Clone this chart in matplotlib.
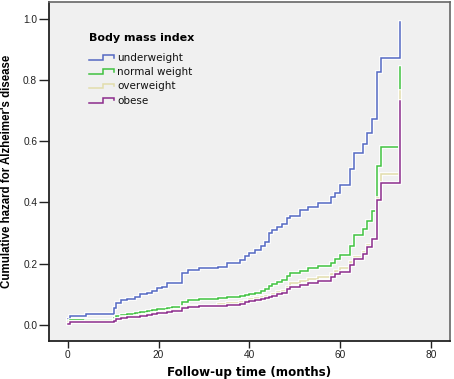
import matplotlib
matplotlib.use("Agg")
import matplotlib.pyplot as plt
from matplotlib.lines import Line2D
from matplotlib.legend_handler import HandlerBase
import matplotlib.patheffects as pe

# ---------------- data ----------------
times = [0, 0.5, 4, 10.2, 10.6, 11.7, 13, 14.8, 16, 17.4, 18.5, 19.6, 20.7, 21.8, 23,
         25.1, 26.4, 29, 33, 35, 38, 39, 40, 41.3, 42.5, 43.5, 44.3, 45, 46.2, 47.3,
         48.2, 49, 51.2, 53, 55.2, 58.1, 58.9, 60, 62.2, 63.1, 65, 66, 67, 68.1, 69, 73.1]

underweight = [0.02, 0.03, 0.035, 0.055, 0.07, 0.08, 0.085, 0.09, 0.10, 0.105, 0.112, 0.12,
               0.125, 0.135, 0.135, 0.168, 0.178, 0.185, 0.19, 0.203, 0.212, 0.225, 0.235,
               0.245, 0.258, 0.27, 0.30, 0.31, 0.32, 0.33, 0.348, 0.357, 0.375, 0.384, 0.399,
               0.417, 0.43, 0.458, 0.508, 0.56, 0.59, 0.628, 0.672, 0.827, 0.873, 0.989]

normal_weight = [0.012, 0.015, 0.016, 0.022, 0.028, 0.033, 0.035, 0.038, 0.041, 0.044, 0.047,
                 0.05, 0.052, 0.055, 0.058, 0.076, 0.081, 0.084, 0.087, 0.09, 0.093, 0.097,
                 0.1, 0.105, 0.111, 0.118, 0.127, 0.133, 0.14, 0.145, 0.159, 0.17, 0.177,
                 0.184, 0.192, 0.203, 0.216, 0.227, 0.257, 0.292, 0.314, 0.34, 0.373, 0.52,
                 0.582, 0.842]

overweight = [0.008, 0.01, 0.011, 0.015, 0.02, 0.024, 0.026, 0.029, 0.032, 0.035, 0.038, 0.04,
              0.042, 0.045, 0.047, 0.059, 0.06, 0.062, 0.067, 0.07, 0.074, 0.079, 0.083,
              0.088, 0.091, 0.093, 0.095, 0.1, 0.106, 0.11, 0.122, 0.135, 0.143, 0.15, 0.157,
              0.166, 0.177, 0.184, 0.206, 0.222, 0.238, 0.26, 0.282, 0.413, 0.494, 0.765]

obese = [0.004, 0.009, 0.01, 0.013, 0.018, 0.022, 0.024, 0.027, 0.03, 0.033, 0.036, 0.038,
         0.04, 0.042, 0.045, 0.055, 0.057, 0.06, 0.063, 0.066, 0.069, 0.074, 0.078, 0.082,
         0.085, 0.087, 0.09, 0.095, 0.1, 0.104, 0.117, 0.124, 0.13, 0.137, 0.143, 0.155,
         0.166, 0.173, 0.195, 0.216, 0.232, 0.254, 0.282, 0.408, 0.462, 0.733]

labels = ["underweight", "normal weight", "overweight", "obese"]
series = [underweight, normal_weight, overweight, obese]
colors = ["#5468c2", "#40c240", "#e2ddab", "#8c2c8c"]

xticks = [0, 20, 40, 60, 80]
yticks = [0.0, 0.2, 0.4, 0.6, 0.8, 1.0]

# ---------------- figure ----------------
W, H = 454, 379
fig = plt.figure(figsize=(W / 100, H / 100), dpi=100)
fig.patch.set_facecolor("white")
ax = fig.add_axes([49 / W, 1 - 341 / H, (450 - 49) / W, (341 - 2) / H])
ax.set_facecolor("#f0f0f0")

halo = [pe.Stroke(linewidth=2.6, foreground="white"), pe.Normal()]
for vals, col, lab in zip(series, colors, labels):
    ax.step(times, vals, where="post", color=col, lw=1.1, label=lab,
            path_effects=halo, solid_joinstyle="miter")

ax.set_xlim(-4.12, 84.2)
ax.set_ylim(-0.053, 1.055)
ax.set_xticks(xticks)
ax.set_xticklabels([str(v) for v in xticks])
ax.set_yticks(yticks)
ax.set_yticklabels([f"{v:.1f}" for v in yticks])

for s in ["left", "bottom"]:
    ax.spines[s].set_color("#222222")
    ax.spines[s].set_linewidth(1.3)
for s in ["top", "right"]:
    ax.spines[s].set_color("#666666")
    ax.spines[s].set_linewidth(1.2)

ax.tick_params(axis="x", direction="out", length=5, width=1, pad=1.5,
               labelsize=7.3, colors="#222222")
ax.tick_params(axis="y", direction="out", length=7, width=1, pad=1.5,
               labelsize=7.3, colors="#222222")
for t in ax.get_xticklabels() + ax.get_yticklabels():
    t.set_family("Liberation Sans")

ax.set_xlabel("Follow-up time (months)", fontsize=8.6, fontweight="bold",
              family="DejaVu Sans", labelpad=4)
ax.set_ylabel("Cumulative hazard for Alzheimer's disease", fontsize=8.3,
              fontweight="bold", family="Liberation Sans", labelpad=7)


class StepHandler(HandlerBase):
    def create_artists(self, legend, orig_handle, xdescent, ydescent,
                       width, height, fontsize, trans):
        x0 = -xdescent
        y0 = -ydescent + height * 0.2
        y1 = -ydescent + height * 0.75
        xs = [x0, x0 + width * 0.56, x0 + width * 0.56, x0 + width, x0 + width]
        ys = [y0, y0, y1, y1, y1 - (y1 - y0) * 0.55]
        ln = Line2D(xs, ys, color=orig_handle.get_color(), lw=1.1,
                    transform=trans, solid_joinstyle="miter")
        return [ln]


handles = [Line2D([], [], color=c) for c in colors]
leg = ax.legend(handles, labels, handler_map={Line2D: StepHandler()},
                title="Body mass index", loc="upper left",
                bbox_to_anchor=(82 / W, 1 - 26 / H), bbox_transform=fig.transFigure,
                frameon=False, fontsize=7.5, handlelength=2.4, handleheight=0.9,
                handletextpad=0.3, labelspacing=0.4, borderpad=0.2,
                alignment="left")
leg.get_title().set_fontweight("bold")
leg.get_title().set_fontsize(8)
leg._legend_box.sep = 7.0
for t in leg.get_texts():
    t.set_color("#111111")

fig.savefig("out.png", dpi=100, facecolor="white")
